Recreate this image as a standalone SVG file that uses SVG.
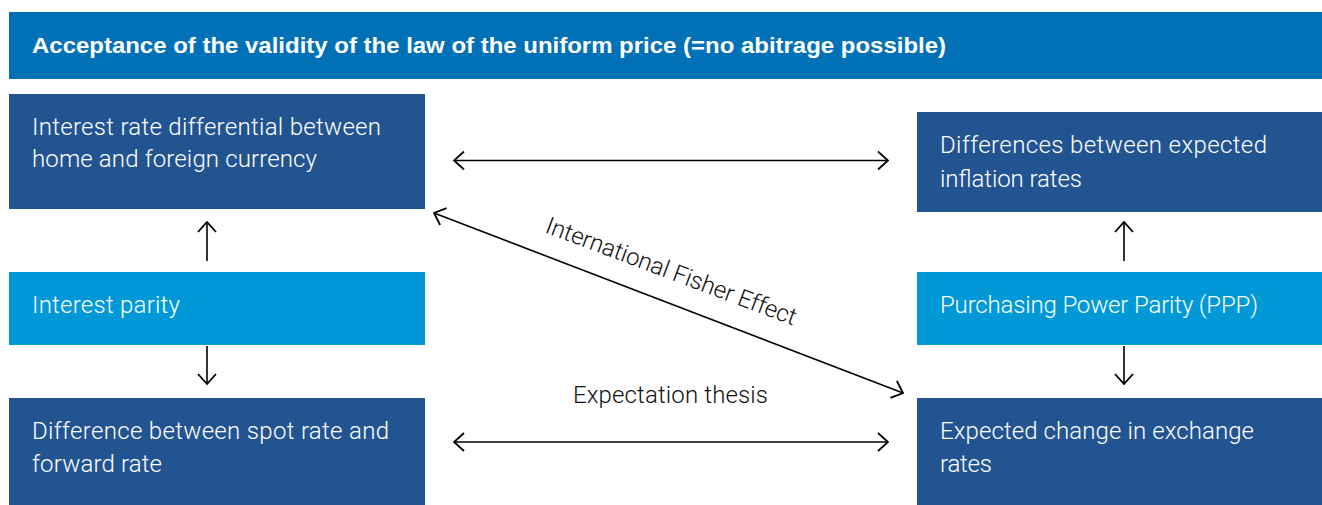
<svg xmlns="http://www.w3.org/2000/svg" width="1322" height="505" viewBox="0 0 1322 505">
<style>
.hdr{fill:#0071B7}
.dark{fill:#235492}
.light{fill:#0098D6}
.t{font-family:Roboto,"Liberation Sans",sans-serif;font-weight:300;font-size:24px;fill:#ffffff}
.h{font-family:"Liberation Sans",Arial,sans-serif;font-weight:bold;font-size:22px;fill:#ffffff}
.lbl{font-family:Roboto,"Liberation Sans",sans-serif;font-weight:300;font-size:24px;fill:#111111}
.c{stroke:#000;stroke-width:1.6;fill:none}
</style>
<defs>
<marker id="ah" markerUnits="userSpaceOnUse" viewBox="0 0 12 20" refX="11" refY="10" markerWidth="12" markerHeight="20" orient="auto-start-reverse">
<path d="M1,1 L11,10 L1,19" fill="none" stroke="#000" stroke-width="1.8"/>
</marker>
</defs>
<g id="header"><rect class="hdr" x="9" y="12" width="1313" height="67"/><text class="h" x="32" y="53" textLength="914" lengthAdjust="spacingAndGlyphs">Acceptance of the validity of the law of the uniform price (=no abitrage possible)</text></g>
<g id="n-ird"><rect class="dark" x="9" y="94" width="416" height="115"/><text class="t" x="32" y="135" textLength="349">Interest rate differential between</text><text class="t" x="32" y="167" textLength="285">home and foreign currency</text></g>
<g id="n-ip"><rect class="light" x="9" y="272" width="416" height="73"/><text class="t" x="32" y="313" textLength="148">Interest parity</text></g>
<g id="n-spot"><rect class="dark" x="9" y="398" width="416" height="107"/><text class="t" x="32" y="439" textLength="357">Difference between spot rate and</text><text class="t" x="32" y="472" textLength="130">forward rate</text></g>
<g id="n-infl"><rect class="dark" x="917" y="112" width="405" height="100"/><text class="t" x="940" y="153" textLength="327">Differences between expected</text><text class="t" x="940" y="187" textLength="142">inflation rates</text></g>
<g id="n-ppp"><rect class="light" x="917" y="272" width="405" height="73"/><text class="t" x="940" y="313" textLength="318">Purchasing Power Parity (PPP)</text></g>
<g id="n-exch"><rect class="dark" x="917" y="398" width="405" height="107"/><text class="t" x="940" y="439" textLength="314">Expected change in exchange</text><text class="t" x="940" y="472" textLength="52">rates</text></g>
<g id="connectors">
<line class="c" x1="454" y1="160.5" x2="888" y2="160.5" marker-start="url(#ah)" marker-end="url(#ah)"/>
<line class="c" x1="454" y1="442" x2="888" y2="442" marker-start="url(#ah)" marker-end="url(#ah)"/>
<line class="c" x1="434" y1="213" x2="903" y2="393" marker-start="url(#ah)" marker-end="url(#ah)"/>
<line class="c" x1="207" y1="261" x2="207" y2="222" marker-end="url(#ah)"/>
<line class="c" x1="207" y1="346" x2="207" y2="384" marker-end="url(#ah)"/>
<line class="c" x1="1124" y1="261" x2="1124" y2="222" marker-end="url(#ah)"/>
<line class="c" x1="1124" y1="346" x2="1124" y2="384" marker-end="url(#ah)"/>
<text class="lbl" transform="translate(544,232) rotate(20.6)" textLength="266">International Fisher Effect</text>
<text class="lbl" x="573" y="403" textLength="195">Expectation thesis</text>
</g>
</svg>
